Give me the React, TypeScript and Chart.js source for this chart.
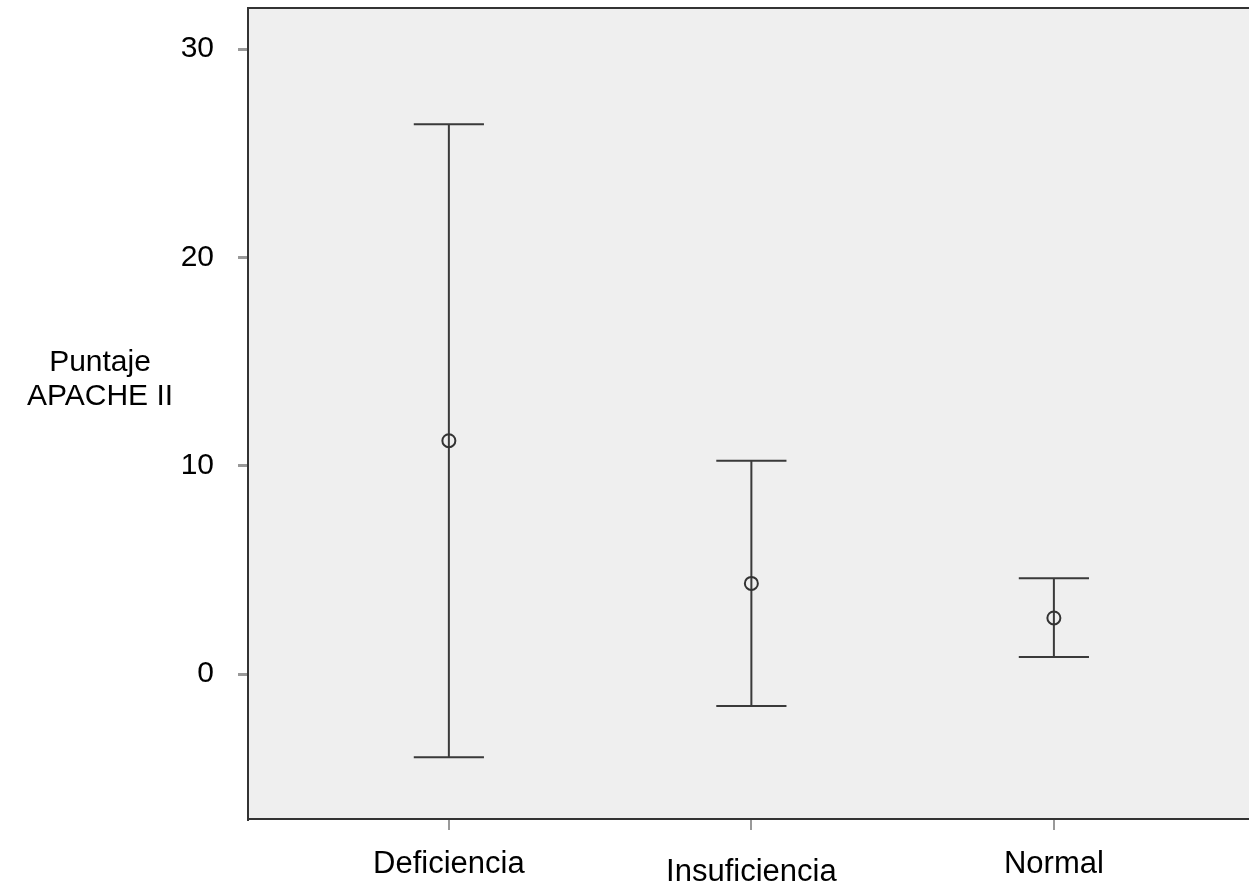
import React, { useEffect, useRef } from "react";
import { Chart, registerables } from "chart.js";

Chart.register(...registerables);

const categories = ["Deficiencia", "Insuficiencia", "Normal"];
const categoryPositions = [1, 2, 3];
const labelDrop = [0, 8, 0];
const means = [11.2, 4.35, 2.69];
const lowerBounds = [-3.99, -1.54, 0.82];
const upperBounds = [26.39, 10.24, 4.6];
const yTicks = [0, 10, 20, 30];
const yTitle = ["Puntaje", "APACHE II"];

const FONT = "'Liberation Sans', Arial, sans-serif";

const frameAndBars = {
  id: "frameAndBars",
  beforeDraw(chart: any) {
    const { ctx, chartArea } = chart;
    ctx.save();
    ctx.fillStyle = "#efefef";
    ctx.fillRect(chartArea.left, chartArea.top, chartArea.right - chartArea.left, chartArea.bottom - chartArea.top);
    ctx.restore();
  },
  beforeDatasetsDraw(chart: any) {
    const { ctx, scales } = chart;
    const xs = scales.x;
    const ys = scales.y;
    ctx.save();
    ctx.strokeStyle = "#3a3a3a";
    ctx.lineWidth = 2;
    const capHalf = 0.116;
    for (let i = 0; i < categories.length; i++) {
      const cx = xs.getPixelForValue(categoryPositions[i]);
      const xl = xs.getPixelForValue(categoryPositions[i] - capHalf);
      const xr = xs.getPixelForValue(categoryPositions[i] + capHalf);
      const yt = ys.getPixelForValue(upperBounds[i]);
      const yb = ys.getPixelForValue(lowerBounds[i]);
      ctx.beginPath();
      ctx.moveTo(cx, yt);
      ctx.lineTo(cx, yb);
      ctx.moveTo(xl, yt);
      ctx.lineTo(xr, yt);
      ctx.moveTo(xl, yb);
      ctx.lineTo(xr, yb);
      ctx.stroke();
    }
    ctx.restore();
  },
  afterDraw(chart: any) {
    const { ctx, chartArea, scales } = chart;
    ctx.save();
    ctx.strokeStyle = "#333";
    ctx.lineWidth = 2;
    ctx.beginPath();
    ctx.moveTo(chartArea.left, chartArea.top);
    ctx.lineTo(chartArea.right, chartArea.top);
    ctx.stroke();
    ctx.fillStyle = "#000";
    ctx.font = `31px ${FONT}`;
    ctx.textAlign = "center";
    ctx.textBaseline = "alphabetic";
    for (let i = 0; i < categories.length; i++) {
      const cx = scales.x.getPixelForValue(categoryPositions[i]);
      ctx.fillText(categories[i], cx, 873 + labelDrop[i]);
    }
    ctx.font = `30px ${FONT}`;
    ctx.fillText(yTitle[0], 100, 371);
    ctx.fillText(yTitle[1], 100, 405);
    ctx.restore();
  },
};

const zeroPad = (s: any) => {
  s.paddingTop = 0;
  s.paddingBottom = 0;
  s.paddingLeft = 0;
  s.paddingRight = 0;
};

export default function App() {
  const ref = useRef<HTMLCanvasElement>(null);
  useEffect(() => {
    if (!ref.current) return;
    const chart = new Chart(ref.current, {
      type: "scatter",
      data: {
        datasets: [
          {
            label: "Media",
            data: categoryPositions.map((x, i) => ({ x, y: means[i] })),
            pointStyle: "circle",
            pointRadius: 6.5,
            pointBorderWidth: 2,
            borderColor: "#333",
            backgroundColor: "rgba(0,0,0,0)",
          },
        ],
      },
      options: {
        animation: false,
        responsive: true,
        maintainAspectRatio: false,
        layout: { autoPadding: false, padding: { top: 8, right: 0, left: 0, bottom: 0 } },
        plugins: { legend: { display: false }, tooltip: { enabled: false } },
        scales: {
          x: {
            type: "linear",
            min: 0.336,
            max: 3.645,
            afterBuildTicks: (s: any) => {
              s.ticks = categoryPositions.map((v) => ({ value: v }));
            },
            afterFit: (s: any) => {
              s.height = 69;
              zeroPad(s);
            },
            grid: { drawOnChartArea: false, drawTicks: true, tickLength: 11, color: "#999", lineWidth: 2 },
            border: { display: true, color: "#333", width: 2 },
            ticks: { display: false },
          },
          y: {
            type: "linear",
            min: -6.96,
            max: 31.97,
            afterBuildTicks: (s: any) => {
              s.ticks = yTicks.map((v) => ({ value: v }));
            },
            afterFit: (s: any) => {
              s.width = 248;
              zeroPad(s);
            },
            grid: { drawOnChartArea: false, drawTicks: true, tickLength: 10, color: "#999", lineWidth: 3 },
            border: { display: true, color: "#333", width: 2 },
            ticks: {
              color: "#000",
              font: { family: FONT, size: 30 },
              padding: 24,
              callback: (v: any) => String(v),
            },
          },
        },
      },
      plugins: [frameAndBars],
    });
    return () => chart.destroy();
  }, []);
  return (
    <div style={{ position: "absolute", left: 0, top: 0, width: 1249, height: 888, background: "#fff" }}>
      <canvas ref={ref} />
    </div>
  );
}
